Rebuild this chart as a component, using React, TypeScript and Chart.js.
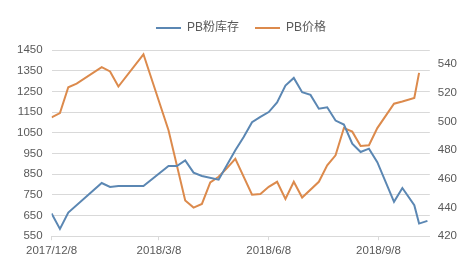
import React, { useEffect, useRef } from "react";
import { Chart, registerables } from "chart.js";

Chart.register(...registerables);

// PB粉库存 (left axis, 万吨)
const inventoryDates = [
  "2017-12-08", "2017-12-15", "2017-12-22", "2018-01-19", "2018-01-26", "2018-02-02",
  "2018-02-23", "2018-03-16", "2018-03-23", "2018-03-30", "2018-04-06", "2018-04-13",
  "2018-04-27", "2018-05-11", "2018-05-18", "2018-05-25", "2018-06-01", "2018-06-08",
  "2018-06-15", "2018-06-22", "2018-06-29", "2018-07-06", "2018-07-13", "2018-07-20",
  "2018-07-27", "2018-08-03", "2018-08-10", "2018-08-17", "2018-08-24", "2018-08-31",
  "2018-09-07", "2018-09-21", "2018-09-28", "2018-10-08", "2018-10-12", "2018-10-19",
];
const inventoryValues = [
  660, 585, 664, 807, 788, 793,
  793, 889, 889, 916, 857, 841,
  823, 965, 1029, 1101, 1127, 1150,
  1197, 1278, 1315, 1246, 1233, 1166,
  1173, 1109, 1090, 997, 957, 973,
  908, 716, 783, 700, 611, 624,
];

// PB价格 (right axis)
const priceDates = [
  "2017-12-08", "2017-12-15", "2017-12-22", "2017-12-29", "2018-01-19", "2018-01-26",
  "2018-02-02", "2018-02-23", "2018-03-16", "2018-03-30", "2018-04-06", "2018-04-13",
  "2018-04-20", "2018-04-27", "2018-05-04", "2018-05-11", "2018-05-25", "2018-06-01",
  "2018-06-08", "2018-06-15", "2018-06-22", "2018-06-29", "2018-07-06", "2018-07-20",
  "2018-07-27", "2018-08-03", "2018-08-10", "2018-08-17", "2018-08-24", "2018-08-31",
  "2018-09-07", "2018-09-21", "2018-09-28", "2018-10-08", "2018-10-12",
];
const priceValues = [
  503, 506, 524, 526.5, 538, 535,
  524.5, 547, 494, 445, 440, 442.5,
  457.5, 461.5, 467.5, 474, 449, 449.5,
  454.5, 458, 446, 458, 447, 458,
  469.5, 476.5, 495.5, 493, 483, 483.5,
  495.5, 512.5, 514, 516.5, 534,
];

const xTickLabels = ["2017/12/8", "2018/3/8", "2018/6/8", "2018/9/8"];
const xEndDate = "2018-10-21";
const leftTicks = [550, 650, 750, 850, 950, 1050, 1150, 1250, 1350, 1450];
const rightTicks = [420, 440, 460, 480, 500, 520, 540];
const rightMax = 550;

const seriesNames = ["PB粉库存", "PB价格"];

const parseDay = (s: string) => {
  const p = s.split(/[-/]/).map(Number);
  return Date.UTC(p[0], p[1] - 1, p[2]) / 86400000;
};
const origin = parseDay(xTickLabels[0]);
const toX = (s: string) => parseDay(s) - origin;

const FONT = '"Liberation Sans", "Noto Sans CJK SC", Arial, sans-serif';
const TEXT = "#595959";
const GRID = "#d9d9d9";
const BLUE = "#5b87b3";
const ORANGE = "#dc8a4c";

const legendTweak = {
  id: "legendTweak",
  beforeInit(chart: any) {
    const legend = chart.legend;
    if (!legend) return;
    const origFit = legend.fit;
    legend.fit = function () {
      origFit.call(this);
      this.height += 6;
    };
    const origDraw = legend.draw;
    legend.draw = function (...args: any[]) {
      const ctx = this.ctx;
      ctx.save();
      ctx.translate(4.5, 0);
      origDraw.apply(this, args);
      ctx.restore();
    };
  },
};

export default function App() {
  const ref = useRef<HTMLCanvasElement | null>(null);

  useEffect(() => {
    document.body.style.margin = "0";
    if (!ref.current) return;
    const xTickValues = xTickLabels.map(toX);
    const chart = new Chart(ref.current, {
      type: "line",
      data: {
        datasets: [
          {
            label: seriesNames[0],
            data: inventoryDates.map((d, i) => ({ x: toX(d), y: inventoryValues[i] })),
            borderColor: BLUE,
            backgroundColor: BLUE,
            borderWidth: 2,
            pointRadius: 0,
            pointStyle: "line",
            tension: 0,
            yAxisID: "y",
          },
          {
            label: seriesNames[1],
            data: priceDates.map((d, i) => ({ x: toX(d), y: priceValues[i] })),
            borderColor: ORANGE,
            backgroundColor: ORANGE,
            borderWidth: 2,
            pointRadius: 0,
            pointStyle: "line",
            tension: 0,
            yAxisID: "y1",
          },
        ],
      },
      options: {
        responsive: false,
        animation: false,
        layout: { padding: { left: 8, right: -5, top: 6, bottom: 6 } },
        plugins: {
          legend: {
            position: "top",
            labels: {
              usePointStyle: true,
              pointStyleWidth: 25,
              boxHeight: 12,
              padding: 16,
              color: TEXT,
              font: { family: FONT, size: 12 },
            },
          },
          tooltip: { enabled: false },
        },
        scales: {
          x: {
            type: "linear",
            min: 0,
            max: toX(xEndDate),
            afterBuildTicks: (scale: any) => {
              scale.ticks = xTickValues.map((v) => ({ value: v }));
            },
            ticks: {
              autoSkip: false,
              maxRotation: 0,
              padding: 4,
              color: TEXT,
              font: { family: FONT, size: 11.5 },
              callback: (v: any) => {
                const i = xTickValues.indexOf(Number(v));
                return i >= 0 ? xTickLabels[i] : "";
              },
            },
            grid: {
              drawOnChartArea: false,
              drawTicks: true,
              tickLength: 4,
              color: GRID,
            },
            border: { display: true, color: GRID },
          },
          y: {
            position: "left",
            min: leftTicks[0],
            max: leftTicks[leftTicks.length - 1],
            afterBuildTicks: (scale: any) => {
              scale.ticks = leftTicks.map((v) => ({ value: v }));
            },
            ticks: {
              padding: 9,
              color: TEXT,
              font: { family: FONT, size: 11.5 },
              callback: (v: any) => String(v),
            },
            grid: { color: GRID, drawTicks: false, lineWidth: 1 },
            border: { display: false },
          },
          y1: {
            position: "right",
            min: rightTicks[0],
            max: rightMax,
            afterBuildTicks: (scale: any) => {
              scale.ticks = rightTicks.map((v) => ({ value: v }));
            },
            ticks: {
              padding: 8,
              color: TEXT,
              font: { family: FONT, size: 11.5 },
              callback: (v: any) => String(v),
            },
            grid: { display: false, drawTicks: false },
            border: { display: false },
          },
        },
      },
      plugins: [legendTweak],
    });
    return () => chart.destroy();
  }, []);

  return (
    <div style={{ width: 460, height: 268, background: "#fff" }}>
      <canvas ref={ref} width={460} height={268} style={{ display: "block" }} />
    </div>
  );
}
